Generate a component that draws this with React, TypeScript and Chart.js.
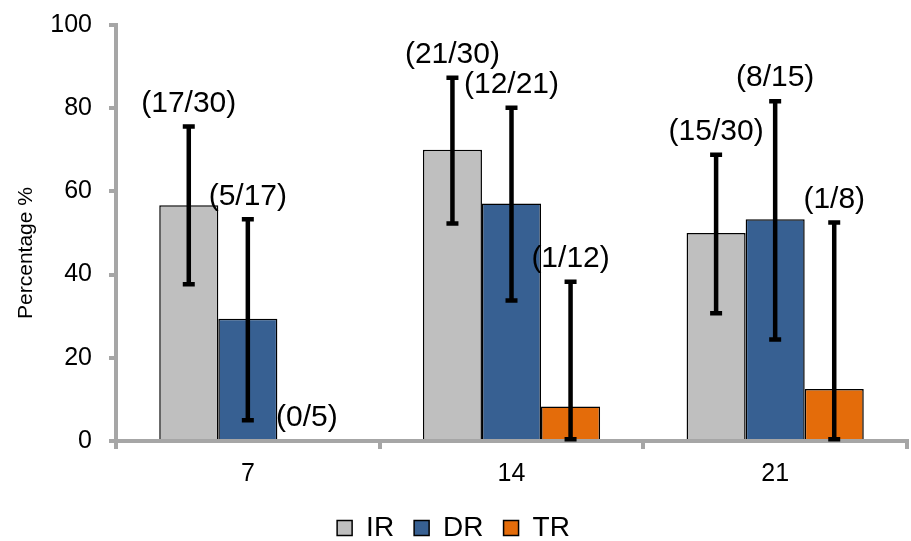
import React, { useEffect, useRef } from 'react';
import { Chart, registerables } from 'chart.js';

Chart.register(...registerables);

const categories = ['7', '14', '21'];
const seriesNames = ['IR', 'DR', 'TR'];
const irValues = [56.7, 70.0, 50.0];
const drValues = [29.4, 57.1, 53.3];
const trValues = [0, 8.3, 12.5];
const irErrLow = [37.7, 52.3, 30.7];
const irErrHigh = [75.6, 87.3, 68.8];
const drErrLow = [5.0, 33.8, 24.4];
const drErrHigh = [53.3, 80.1, 81.7];
const trErrLow = [0, 0.4, 0.4];
const trErrHigh = [0, 38.3, 52.5];
const irLabels = ['(17/30)', '(21/30)', '(15/30)'];
const drLabels = ['(5/17)', '(12/21)', '(8/15)'];
const trLabels = ['(0/5)', '(1/12)', '(1/8)'];
const yTicks = [0, 20, 40, 60, 80, 100];
const yTitle = 'Percentage %';

const FONT = '"Liberation Sans", Arial, sans-serif';
const AXIS_GRAY = '#a6a6a6';
const colors = ['#bfbfbf', '#376092', '#e46c0a'];
const errLows = [irErrLow, drErrLow, trErrLow];
const errHighs = [irErrHigh, drErrHigh, trErrHigh];
const pointLabels = [irLabels, drLabels, trLabels];

const errorBarPlugin = {
  id: 'errorBars',
  afterDatasetsDraw(chart: any) {
    const ctx = chart.ctx;
    const yScale = chart.scales.y;
    ctx.save();
    ctx.strokeStyle = '#000';
    ctx.lineWidth = 4.5;
    ctx.lineCap = 'butt';
    chart.data.datasets.forEach((_: any, i: number) => {
      const meta = chart.getDatasetMeta(i);
      meta.data.forEach((el: any, j: number) => {
        const lo = errLows[i][j];
        const hi = errHighs[i][j];
        if (hi === lo) return;
        const x = el.x;
        const yLo = yScale.getPixelForValue(lo);
        const yHi = yScale.getPixelForValue(hi);
        ctx.beginPath();
        ctx.moveTo(x, yLo);
        ctx.lineTo(x, yHi);
        ctx.moveTo(x - 6, yLo);
        ctx.lineTo(x + 6, yLo);
        ctx.moveTo(x - 6, yHi);
        ctx.lineTo(x + 6, yHi);
        ctx.stroke();
      });
    });
    ctx.restore();
  },
};

const labelPlugin = {
  id: 'pointLabels',
  afterDatasetsDraw(chart: any) {
    const ctx = chart.ctx;
    const yScale = chart.scales.y;
    ctx.save();
    ctx.fillStyle = '#000';
    ctx.font = `30px ${FONT}`;
    ctx.textAlign = 'center';
    ctx.textBaseline = 'middle';
    chart.data.datasets.forEach((_: any, i: number) => {
      const meta = chart.getDatasetMeta(i);
      meta.data.forEach((el: any, j: number) => {
        const top = yScale.getPixelForValue(errHighs[i][j]);
        ctx.fillText(pointLabels[i][j], el.x, top - 23);
      });
    });
    ctx.restore();
  },
};

const yTitlePlugin = {
  id: 'yTitle',
  afterDraw(chart: any) {
    const ctx = chart.ctx;
    const area = chart.chartArea;
    ctx.save();
    ctx.translate(26, (area.top + area.bottom) / 2 + 20);
    ctx.rotate(-Math.PI / 2);
    ctx.fillStyle = '#000';
    ctx.font = `21px ${FONT}`;
    ctx.textAlign = 'center';
    ctx.textBaseline = 'middle';
    ctx.fillText(yTitle, 0, 0);
    ctx.restore();
  },
};

export default function App() {
  const canvasRef = useRef<HTMLCanvasElement | null>(null);

  useEffect(() => {
    if (!canvasRef.current) return;
    const values = [irValues, drValues, trValues];
    const chart = new Chart(canvasRef.current, {
      type: 'bar',
      data: {
        labels: categories,
        datasets: seriesNames.map((name, i) => ({
          label: name,
          data: values[i],
          backgroundColor: colors[i],
          borderColor: '#000',
          borderWidth: 1.5,
          categoryPercentage: 0.672,
          barPercentage: 1,
        })),
      },
      options: {
        responsive: true,
        maintainAspectRatio: false,
        animation: false,
        layout: { padding: { top: 25, right: 4, bottom: -11, left: 0 } },
        plugins: {
          tooltip: { enabled: false },
          legend: {
            position: 'bottom',
            labels: {
              boxWidth: 15,
              boxHeight: 15,
              padding: 20,
              color: '#000',
              font: { family: FONT, size: 28 },
            },
          },
        },
        scales: {
          x: {
            afterFit: (scale: any) => {
              scale.height = 53;
            },
            grid: {
              display: true,
              offset: true,
              drawOnChartArea: false,
              drawTicks: true,
              tickLength: 8,
              color: AXIS_GRAY,
              lineWidth: 4,
            },
            border: { display: true, color: AXIS_GRAY, width: 4 },
            ticks: {
              color: '#000',
              padding: 10,
              font: { family: FONT, size: 25 },
            },
          },
          y: {
            min: 0,
            max: 100,
            afterBuildTicks: (scale: any) => {
              scale.ticks = yTicks.map((v) => ({ value: v }));
            },
            afterFit: (scale: any) => {
              scale.width = 116;
              scale.paddingTop = 0;
              scale.paddingBottom = 0;
            },
            grid: {
              display: true,
              drawOnChartArea: false,
              drawTicks: true,
              tickLength: 7,
              color: AXIS_GRAY,
              lineWidth: 4,
            },
            border: { display: true, color: AXIS_GRAY, width: 4 },
            ticks: {
              color: '#000',
              padding: 17,
              font: { family: FONT, size: 25 },
            },
          },
        },
      },
      plugins: [errorBarPlugin, labelPlugin, yTitlePlugin],
    } as any);
    return () => chart.destroy();
  }, []);

  return (
    <div style={{ position: 'absolute', left: 0, top: 0, width: 911, height: 541, background: '#fff' }}>
      <canvas ref={canvasRef} />
    </div>
  );
}
